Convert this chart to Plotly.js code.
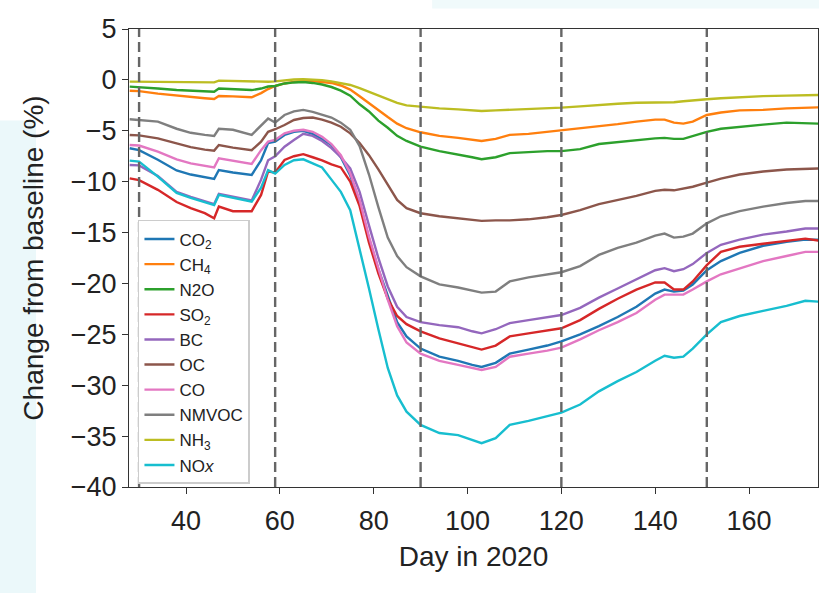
<!DOCTYPE html>
<html>
<head>
<meta charset="utf-8">
<script src="https://cdn.plot.ly/plotly-3.0.1.min.js"></script>
<style>html,body{margin:0;padding:0;background:#fff;}#chart{width:819px;height:593px;}</style>
</head>
<body>
<div id="chart"></div>
<script>
const days = [28, 30, 34, 38, 41, 44, 46, 47, 50, 54, 56, 57.5, 59, 61, 63, 65, 67, 69, 71, 73, 75, 77, 79, 81, 83, 85, 87, 90, 94, 98, 101, 103, 106, 109, 113, 117, 120, 124, 128, 132, 136, 140, 142, 144, 146, 148, 151, 154, 158, 163, 168, 172, 175];

const co2 = [-6.72, -6.9, -7.85, -8.9, -9.3, -9.6, -9.73, -8.86, -9.1, -9.34, -7.9, -6.2, -6.07, -5.41, -5.1, -5.0, -5.3, -5.8, -6.4, -7.6, -9.4, -12.0, -15.6, -18.6, -21.3, -23.8, -25.2, -26.4, -27.2, -27.6, -28.0, -28.2, -27.8, -26.9, -26.5, -26.1, -25.7, -25.0, -24.2, -23.3, -22.3, -21.0, -20.6, -20.8, -20.7, -20.1, -18.7, -17.8, -17.0, -16.3, -15.9, -15.7, -15.7];
const ch4 = [-1.06, -1.1, -1.35, -1.55, -1.7, -1.8, -1.87, -1.58, -1.62, -1.71, -1.3, -0.9, -0.6, -0.35, -0.2, -0.11, -0.11, -0.2, -0.3, -0.55, -0.95, -1.6, -2.3, -3.0, -3.65, -4.3, -4.75, -5.15, -5.5, -5.7, -5.9, -6.0, -5.8, -5.4, -5.3, -5.1, -5.0, -4.8, -4.6, -4.35, -4.1, -3.9, -3.9, -4.2, -4.3, -4.1, -3.45, -3.2, -3.0, -2.95, -2.8, -2.7, -2.7];
const n2o = [-0.66, -0.7, -0.85, -1.0, -1.05, -1.1, -1.16, -0.85, -0.9, -1.0, -0.85, -0.65, -0.6, -0.35, -0.25, -0.21, -0.3, -0.45, -0.7, -1.05, -1.55, -2.4, -3.1, -4.0, -4.7, -5.5, -6.0, -6.56, -7.0, -7.3, -7.6, -7.8, -7.6, -7.2, -7.1, -7.0, -7.0, -6.8, -6.3, -6.1, -5.9, -5.75, -5.7, -5.8, -5.8, -5.5, -5.1, -4.8, -4.6, -4.4, -4.2, -4.3, -4.3];
const so2 = [-9.67, -9.85, -10.8, -12.0, -12.6, -13.1, -13.6, -12.45, -12.9, -12.9, -11.3, -9.0, -9.1, -7.87, -7.5, -7.3, -7.6, -7.9, -8.3, -8.6, -10.0, -12.4, -16.0, -19.0, -21.5, -23.2, -24.0, -24.7, -25.4, -25.9, -26.3, -26.5, -26.1, -25.2, -24.9, -24.6, -24.4, -23.6, -22.5, -21.5, -20.6, -19.9, -19.9, -20.6, -20.6, -19.8, -18.2, -16.9, -16.4, -16.1, -15.8, -15.6, -15.8];
const bc = [-8.36, -8.4, -9.45, -11.0, -11.5, -11.9, -12.2, -11.2, -11.5, -11.85, -9.8, -7.9, -7.5, -6.56, -5.9, -5.3, -5.5, -6.0, -6.7, -7.6, -8.7, -11.0, -14.3, -17.5, -20.3, -22.3, -23.3, -23.8, -24.1, -24.3, -24.7, -24.9, -24.5, -23.9, -23.6, -23.3, -23.1, -22.4, -21.4, -20.5, -19.6, -18.7, -18.5, -18.8, -18.6, -18.1, -17.0, -16.2, -15.7, -15.2, -14.9, -14.6, -14.6];
const oc = [-5.41, -5.45, -5.74, -6.25, -6.6, -6.85, -6.95, -6.4, -6.66, -6.9, -6.07, -5.1, -4.85, -4.43, -3.94, -3.75, -3.7, -3.9, -4.2, -4.6, -5.25, -6.2, -7.4, -8.8, -10.3, -11.8, -12.6, -13.1, -13.4, -13.6, -13.8, -13.85, -13.8, -13.8, -13.7, -13.5, -13.27, -12.8, -12.2, -11.8, -11.4, -10.9, -10.8, -10.85, -10.7, -10.5, -10.1, -9.7, -9.3, -9.0, -8.8, -8.7, -8.7];
const co = [-6.4, -6.45, -7.05, -7.8, -8.2, -8.45, -8.59, -7.7, -7.93, -8.26, -6.9, -6.07, -5.9, -5.25, -5.0, -4.9, -5.1, -5.6, -6.3, -7.4, -9.2, -11.8, -15.4, -18.6, -21.6, -24.2, -25.8, -26.9, -27.6, -28.0, -28.3, -28.5, -28.2, -27.2, -26.9, -26.6, -26.3, -25.5, -24.6, -23.8, -22.9, -21.6, -21.1, -21.1, -21.1, -20.6, -19.8, -19.1, -18.5, -17.8, -17.3, -16.9, -16.9];
const nmvoc = [-3.87, -3.94, -4.1, -4.8, -5.2, -5.4, -5.5, -4.8, -4.9, -5.4, -4.5, -3.8, -4.2, -3.45, -3.1, -2.95, -3.15, -3.4, -3.7, -4.2, -4.9, -6.5, -9.3, -12.5, -15.5, -17.3, -18.4, -19.3, -20.1, -20.4, -20.7, -20.9, -20.8, -19.8, -19.4, -19.1, -18.9, -18.3, -17.2, -16.5, -16.0, -15.3, -15.1, -15.5, -15.4, -15.1, -14.1, -13.4, -12.9, -12.45, -12.1, -11.9, -11.9];
const nh3 = [-0.17, -0.18, -0.2, -0.22, -0.23, -0.24, -0.24, -0.07, -0.1, -0.2, -0.2, -0.18, -0.15, -0.02, 0.04, 0.06, 0.04, -0.02, -0.15, -0.3, -0.5, -0.8, -1.15, -1.5, -1.9, -2.25, -2.5, -2.66, -2.8, -2.9, -3.0, -3.05, -3.0, -2.95, -2.85, -2.8, -2.73, -2.6, -2.45, -2.35, -2.25, -2.2, -2.2, -2.2, -2.1, -2.0, -1.9, -1.8, -1.7, -1.6, -1.55, -1.5, -1.48];
const nox = [-7.93, -8.03, -9.5, -11.1, -11.6, -12.0, -12.3, -11.3, -11.6, -11.96, -10.6, -8.86, -9.2, -8.36, -7.9, -7.8, -8.2, -8.6, -9.8, -11.0, -12.8, -16.5, -20.5, -24.5, -28.3, -31.0, -32.6, -33.9, -34.7, -34.9, -35.4, -35.7, -35.2, -33.9, -33.5, -33.0, -32.7, -31.9, -30.6, -29.6, -28.7, -27.6, -27.1, -27.3, -27.2, -26.4, -25.0, -23.8, -23.2, -22.7, -22.2, -21.7, -21.8];

const seriesNames = ['CO<sub>2</sub>', 'CH<sub>4</sub>', 'N2O', 'SO<sub>2</sub>', 'BC', 'OC', 'CO', 'NMVOC', 'NH<sub>3</sub>', 'NO<i>x</i>'];
const seriesValues = [co2, ch4, n2o, so2, bc, oc, co, nmvoc, nh3, nox];
const seriesColors = ['#1f77b4', '#ff7f0e', '#2ca02c', '#d62728', '#9467bd', '#8c564b', '#e377c2', '#7f7f7f', '#bcbd22', '#17becf'];

const eventDays = [30, 59, 90, 120, 151];
const xTicks = [40, 60, 80, 100, 120, 140, 160];
const yTicks = [5, 0, -5, -10, -15, -20, -25, -30, -35, -40];

const traces = seriesNames.map((n, i) => ({
  type: 'scatter', mode: 'lines', x: days, y: seriesValues[i], name: n,
  line: {color: seriesColors[i], width: 2.4}
}));

const shapes = eventDays.map(d => ({
  type: 'line', xref: 'x', yref: 'paper', x0: d, x1: d, y0: 0, y1: 1,
  line: {color: '#666666', width: 2.4, dash: '10px,5px'}, layer: 'above'
}));
shapes.unshift({
  type: 'rect', xref: 'paper', yref: 'paper', x0: -0.19, x1: -0.135, y0: -0.25, y1: 0.8,
  fillcolor: '#ebf8fa', line: {width: 0}, layer: 'below'
});
shapes.unshift({
  type: 'rect', xref: 'paper', yref: 'paper', x0: 0.44, x1: 1.002, y0: 1.045, y1: 1.07,
  fillcolor: '#f0fafb', line: {width: 0}, layer: 'below'
});

const font = {family: '"Liberation Sans", Arial, Helvetica, sans-serif', color: '#222222'};

const layout = {
  width: 819, height: 593,
  margin: {l: 129, r: 1, t: 29, b: 106},
  paper_bgcolor: '#ffffff', plot_bgcolor: '#ffffff',
  font: Object.assign({size: 20}, font),
  showlegend: true,
  legend: {
    x: 0.013, y: 0.583, xanchor: 'left', yanchor: 'top',
    bgcolor: '#ffffff', bordercolor: '#cccccc', borderwidth: 1.5,
    font: Object.assign({size: 17}, font), tracegroupgap: 0
  },
  xaxis: {
    range: [27.85, 174.7], tickvals: xTicks, ticks: 'outside', ticklen: 6, tickcolor: '#333',
    showline: true, mirror: true, linecolor: '#333', linewidth: 1,
    showgrid: false, zeroline: false, ticklabelstandoff: 4,
    tickfont: Object.assign({size: 27}, font),
    title: {text: 'Day in 2020', font: Object.assign({size: 28}, font), standoff: 10}
  },
  yaxis: {
    range: [-40, 5], tickvals: yTicks, ticks: 'outside', ticklen: 6, tickcolor: '#333',
    showline: true, mirror: true, linecolor: '#333', linewidth: 1,
    showgrid: false, zeroline: false,
    tickfont: Object.assign({size: 27}, font),
    title: {text: 'Change from baseline (%)', font: Object.assign({size: 28}, font), standoff: 18}
  },
  shapes: shapes
};

Plotly.newPlot('chart', traces, layout, {displayModeBar: false, staticPlot: true});
</script>
</body>
</html>
